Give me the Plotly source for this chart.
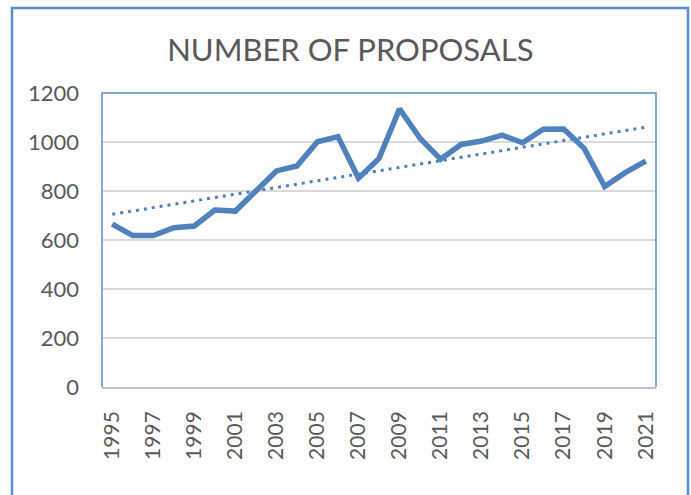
import numpy as np
import plotly.graph_objects as go

# data
years = list(range(1995, 2022))
proposals = [665, 618, 618, 650, 657, 722, 718, 800, 882, 902, 1001, 1022, 852, 933,
             1135, 1015, 930, 990, 1004, 1028, 997, 1052, 1053, 974, 818, 875, 922]
tick_years = years[::2]
y_ticks = [0, 200, 400, 600, 800, 1000, 1200]

BLUE = "#4f81bd"
GREY_TEXT = "#595959"

idx = np.arange(len(years))
slope, intercept = np.polyfit(idx, proposals, 1)
trend = slope * idx + intercept

fig = go.Figure()
fig.add_trace(go.Scatter(
    x=idx, y=proposals, mode="lines",
    line=dict(color=BLUE, width=5.5),
    name="Proposals", hoverinfo="skip"
))
fig.add_trace(go.Scatter(
    x=idx, y=trend, mode="lines",
    line=dict(color=BLUE, width=3, dash="3px,5px"),
    name="Trend", hoverinfo="skip"
))

fig.update_layout(
    width=691, height=495,
    margin=dict(l=102, r=35, t=93, b=108),
    paper_bgcolor="white", plot_bgcolor="white",
    showlegend=False,
    font=dict(family="Lato", color=GREY_TEXT, size=21),
    title=dict(
        text="NUMBER OF PROPOSALS",
        x=0.507, xanchor="center",
        y=1 - 50 / 495, yanchor="middle", yref="container",
        font=dict(family="Lato", size=31, color=GREY_TEXT),
    ),
)

fig.update_xaxes(
    range=[-0.5, len(years) - 0.5],
    tickvals=idx[::2], ticktext=[str(y) for y in tick_years],
    tickangle=-90, ticks="", ticklabelstandoff=14,
    showgrid=False, zeroline=False,
    showline=True, linecolor="#b7c3d6", linewidth=1.5,
    tickfont=dict(family="Lato", size=21, color=GREY_TEXT),
)
fig.update_yaxes(
    range=[0, 1200], tickvals=y_ticks,
    ticks="", ticklabelstandoff=22,
    showgrid=True, gridcolor="#d9d9d9", gridwidth=1.5,
    zeroline=False, showline=False,
    tickfont=dict(family="Lato", size=22, color=GREY_TEXT),
)

# plot-area border (left, top, right) and outer chart frame
fig.add_shape(type="path", xref="paper", yref="paper",
              path="M0,0 L0,1 L1,1 L1,0",
              line=dict(color="#5b8bcf", width=1.5), layer="above")
fig.add_shape(type="rect", xref="paper", yref="paper",
              x0=(12 - 102) / 554, x1=(688 - 102) / 554,
              y0=(387 - 510) / 294, y1=(387 - 8) / 294,
              line=dict(color="#5b8bcf", width=2.5), layer="below")

fig.write_html("out.html", config={"displayModeBar": False},
               post_script="document.body.style.margin='0';document.body.style.overflow='hidden';")
